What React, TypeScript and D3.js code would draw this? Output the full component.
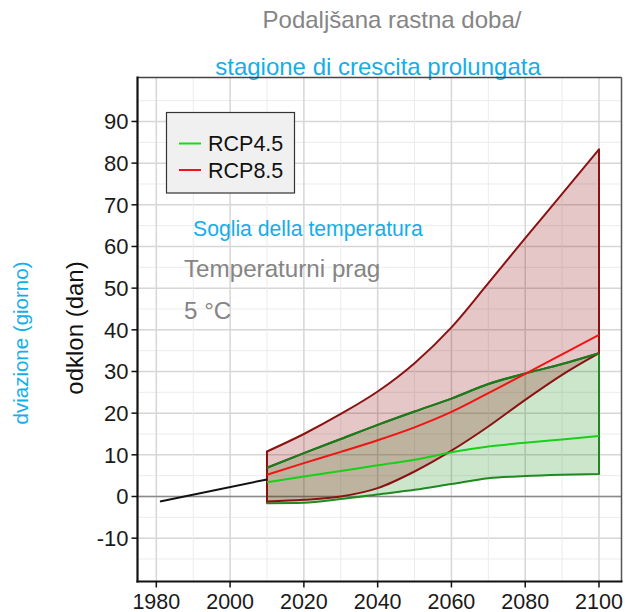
import React from 'react';
import * as d3 from 'd3';

// growing season extension, threshold 5 °C
const years = [2010, 2020, 2030, 2040, 2050, 2060, 2070, 2080, 2090, 2100];
const rcp45Lower = [-1.6, -1.5, -0.6, 0.5, 1.6, 3.0, 4.4, 4.9, 5.2, 5.4];
const rcp45Mean = [3.4, 4.8, 6.1, 7.5, 8.8, 10.6, 12.0, 12.9, 13.7, 14.5];
const rcp45Upper = [6.9, 10.4, 13.8, 17.2, 20.4, 23.5, 27.0, 29.5, 31.8, 34.4];
const rcp85Lower = [-1.2, -0.8, 0.0, 2.0, 6.0, 11.0, 16.8, 23.2, 29.2, 34.4];
const rcp85Mean = [5.2, 8.0, 10.7, 13.5, 16.6, 20.3, 24.8, 29.4, 34.1, 38.8];
const rcp85Upper = [10.8, 15.0, 19.8, 25.2, 32.0, 40.6, 51.2, 62.0, 72.6, 83.3];
const histYears = [1981, 2010];
const histValues = [-1.2, 4.1];

const xTicks = [1980, 2000, 2020, 2040, 2060, 2080, 2100];
const yTicks = [-10, 0, 10, 20, 30, 40, 50, 60, 70, 80, 90];
const legendLabels = ['RCP4.5', 'RCP8.5'];

const FONT = '"Liberation Sans", Arial, Helvetica, sans-serif';
const BLUE = '#14aeea';
const GRAY = '#858585';

export default function App() {
  const W = 625;
  const H = 612;
  const left = 137.5, right = 621.5, top = 77.5, bottom = 581.5;

  const x = d3.scaleLinear().domain([1974.9, 2106.1]).range([left, right]);
  const y = d3.scaleLinear().domain([-20.4, 100.55]).range([bottom, top]);

  const band = (lo: number[], hi: number[]) =>
    d3.area<number>()
      .x((_, i) => x(years[i]))
      .y0((_, i) => y(lo[i]))
      .y1((_, i) => y(hi[i]))
      .curve(d3.curveMonotoneX)(years)!;

  const line = (vals: number[]) =>
    d3.line<number>()
      .x((_, i) => x(years[i]))
      .y((_, i) => y(vals[i]))
      .curve(d3.curveMonotoneX)(years)!;

  const histLine = d3.line<number>()
    .x((_, i) => x(histYears[i]))
    .y((_, i) => y(histValues[i]))(histYears)!;

  const xMinor = d3.range(1980, 2101, 10);
  const yMinor = d3.range(-15, 100, 5);

  return (
    <svg width={W} height={H} style={{ position: 'absolute', left: 0, top: 0, fontFamily: FONT }}>
      <rect width={W} height={H} fill="#fff" />

      {/* titles */}
      <text x={392} y={28} textAnchor="middle" fontSize={24} fill={GRAY}>Podaljšana rastna doba/</text>
      <text x={378} y={75} textAnchor="middle" fontSize={24} fill={BLUE}>stagione di crescita prolungata</text>

      {/* grid */}
      <g>
        {yMinor.map(v => (
          <line key={'ym' + v} x1={left} x2={right} y1={y(v)} y2={y(v)}
            stroke={v % 10 === 0 ? '#d6d6d6' : '#ececec'} strokeWidth={v % 10 === 0 ? 1.5 : 1} />
        ))}
        {xMinor.map(v => (
          <line key={'xm' + v} x1={x(v)} x2={x(v)} y1={top} y2={bottom}
            stroke={v % 20 === 0 ? '#d6d6d6' : '#ececec'} strokeWidth={v % 20 === 0 ? 1.5 : 1} />
        ))}
      </g>

      {/* zero line */}
      <line x1={left} x2={right} y1={y(0)} y2={y(0)} stroke="#8a8a8a" strokeWidth={1.5} />

      {/* bands */}
      <path d={band(rcp45Lower, rcp45Upper)} fill="rgba(0,128,0,0.2)" stroke="#1f8a1f" strokeWidth={2} strokeLinejoin="round" />
      <path d={band(rcp85Lower, rcp85Upper)} fill="rgba(139,0,0,0.22)" stroke="#8b1212" strokeWidth={2} strokeLinejoin="round" />

      {/* redraw upper green edge over red fill */}
      <path d={line(rcp45Upper)} fill="none" stroke="#1e7a1e" strokeWidth={2} />

      {/* means */}
      <path d={line(rcp45Mean)} fill="none" stroke="#18d018" strokeWidth={2} />
      <path d={line(rcp85Mean)} fill="none" stroke="#f01414" strokeWidth={2} />

      {/* historical */}
      <path d={histLine} fill="none" stroke="#111" strokeWidth={2} />

      {/* frame */}
      <line x1={left} x2={right} y1={top} y2={top} stroke="#444" strokeWidth={1.5} />
      <line x1={right} x2={right} y1={top} y2={bottom} stroke="#555" strokeWidth={1.5} />
      <line x1={left} x2={left} y1={top - 1} y2={bottom + 1} stroke="#111" strokeWidth={2.2} />
      <line x1={left - 1} x2={right + 1} y1={bottom} y2={bottom} stroke="#111" strokeWidth={2.2} />

      {/* y axis */}
      {yTicks.map(v => (
        <g key={'yt' + v}>
          <line x1={left - 6} x2={left} y1={y(v)} y2={y(v)} stroke="#111" strokeWidth={1.5} />
          <text x={left - 9} y={y(v)} dy="0.36em" textAnchor="end" fontSize={22} fill="#1a1a1a">{v}</text>
        </g>
      ))}
      {/* x axis */}
      {xTicks.map(v => (
        <g key={'xt' + v}>
          <line x1={x(v)} x2={x(v)} y1={bottom} y2={bottom + 6} stroke="#111" strokeWidth={1.5} />
          <text x={x(v)} y={bottom + 27} textAnchor="middle" fontSize={21.5} fill="#1a1a1a">{v}</text>
        </g>
      ))}

      {/* axis titles */}
      <text transform="translate(83,328) rotate(-90)" textAnchor="middle" fontSize={24} fill="#111">odklon (dan)</text>
      <text transform="translate(28,343) rotate(-90)" textAnchor="middle" fontSize={20.5} fill={BLUE}>dviazione (giorno)</text>

      {/* legend */}
      <rect x={166.5} y={112.5} width={128} height={80.5} fill="#f0f0f0" stroke="#333" strokeWidth={1.2} />
      {legendLabels.map((lab, i) => (
        <g key={lab}>
          <line x1={179} x2={201} y1={143.5 + i * 26.5} y2={143.5 + i * 26.5}
            stroke={i === 0 ? '#10e010' : '#f01414'} strokeWidth={2} />
          <text x={208} y={143.5 + i * 26.5} dy="0.36em" fontSize={21.5} fill="#111">{lab}</text>
        </g>
      ))}

      {/* annotations */}
      <text x={193} y={228} dy="0.36em" fontSize={21.2} fill={BLUE}>Soglia della temperatura</text>
      <text x={184} y={268} dy="0.36em" fontSize={24.2} fill={GRAY}>Temperaturni prag</text>
      <text x={184} y={310} dy="0.36em" fontSize={24.2} fill={GRAY}>5 °C</text>
    </svg>
  );
}
